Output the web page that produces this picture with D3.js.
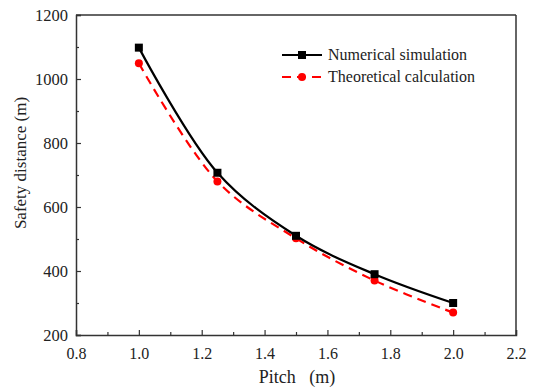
<!DOCTYPE html>
<html>
<head>
<meta charset="utf-8">
<script src="https://cdn.jsdelivr.net/npm/d3@7"></script>
<style>
  body { margin: 0; background: #fff; }
</style>
</head>
<body>
<div id="chart"></div>
<script>
// Data
const pitch = [1.0, 1.25, 1.5, 1.75, 2.0];
const numerical = [1098, 707, 510, 390, 300];
const theoretical = [1049, 680, 502, 370, 270];
const xTicks = [0.8, 1.0, 1.2, 1.4, 1.6, 1.8, 2.0, 2.2];
const yTicks = [200, 400, 600, 800, 1000, 1200];
const seriesNames = ['Numerical simulation', 'Theoretical calculation'];

const FONT = '"Liberation Serif", "DejaVu Serif", "Times New Roman", serif';

const W = 534, H = 387;
const margin = { top: 15, right: 18, bottom: 52, left: 76 };
const width = W - margin.left - margin.right;
const height = H - margin.top - margin.bottom;

const svg = d3.select('#chart').append('svg')
    .attr('width', W)
    .attr('height', H)
    .style('font-family', FONT);

const g = svg.append('g')
    .attr('transform', `translate(${margin.left},${margin.top})`);

const x = d3.scaleLinear().domain([0.8, 2.2]).range([0, width]);
const y = d3.scaleLinear().domain([200, 1200]).range([height, 0]);

// minor ticks
g.append('g')
    .attr('transform', `translate(0,${height})`)
    .call(d3.axisBottom(x).tickValues(d3.range(0.9, 2.2, 0.2)).tickSize(-3).tickFormat(''))
    .call(a => a.select('.domain').remove());
g.append('g')
    .call(d3.axisLeft(y).tickValues(d3.range(300, 1200, 200)).tickSize(-3).tickFormat(''))
    .call(a => a.select('.domain').remove());

// major axes
const xAxis = g.append('g')
    .attr('transform', `translate(0,${height})`)
    .call(d3.axisBottom(x).tickValues(xTicks).tickSize(-5).tickPadding(13).tickFormat(d3.format('.1f')));
const yAxis = g.append('g')
    .call(d3.axisLeft(y).tickValues(yTicks).tickSize(-5).tickPadding(8).tickFormat(d3.format('d')));

xAxis.selectAll('text').style('font-size', '16px');
yAxis.selectAll('text').style('font-size', '16.5px');
[xAxis, yAxis].forEach(a => {
    a.attr('font-family', null);
    a.selectAll('text').style('font-family', FONT).attr('fill', '#222');
    a.select('.domain').attr('stroke', '#333').attr('stroke-width', 1.5);
});
g.selectAll('.tick line').attr('stroke', '#333').attr('stroke-width', 1.2);

// frame top and right
g.append('line').attr('x1', 0).attr('x2', width).attr('y1', 0).attr('y2', 0)
    .attr('stroke', '#333').attr('stroke-width', 1.5);
g.append('line').attr('x1', width).attr('x2', width).attr('y1', 0).attr('y2', height)
    .attr('stroke', '#333').attr('stroke-width', 1.5);

// axis titles
svg.append('text')
    .attr('x', 297)
    .attr('y', 383)
    .attr('text-anchor', 'middle')
    .style('font-size', '18px')
    .style('font-family', FONT)
    .attr('fill', '#222')
    .text('Pitch\u00a0\u00a0\u00a0(m)');
svg.append('text')
    .attr('transform', 'translate(26,163) rotate(-90)')
    .attr('text-anchor', 'middle')
    .style('font-size', '17px')
    .style('font-family', FONT)
    .attr('fill', '#222')
    .text('Safety distance (m)');

const line = d3.line()
    .x(d => x(d[0]))
    .y(d => y(d[1]))
    .curve(d3.curveCatmullRom.alpha(0.5));

const numData = pitch.map((p, i) => [p, numerical[i]]);
const theoData = pitch.map((p, i) => [p, theoretical[i]]);

// theoretical (red dashed)
g.append('path')
    .datum(theoData)
    .attr('fill', 'none')
    .attr('stroke', '#ff0000')
    .attr('stroke-width', 2.2)
    .attr('stroke-dasharray', '9,6')
    .attr('d', line);
g.selectAll('.theo')
    .data(theoData)
    .enter()
    .append('circle')
    .attr('class', 'theo')
    .attr('cx', d => x(d[0]))
    .attr('cy', d => y(d[1]))
    .attr('r', 4)
    .attr('fill', '#ff0000');

// numerical (black solid)
g.append('path')
    .datum(numData)
    .attr('fill', 'none')
    .attr('stroke', '#000')
    .attr('stroke-width', 2.2)
    .attr('d', line);
g.selectAll('.num')
    .data(numData)
    .enter()
    .append('rect')
    .attr('class', 'num')
    .attr('x', d => x(d[0]) - 4)
    .attr('y', d => y(d[1]) - 4)
    .attr('width', 8)
    .attr('height', 8)
    .attr('fill', '#000');

// legend
const legend = svg.append('g').attr('transform', 'translate(282,55)');
legend.append('line').attr('x1', 0).attr('x2', 40).attr('y1', 0).attr('y2', 0)
    .attr('stroke', '#000').attr('stroke-width', 2.2);
legend.append('rect').attr('x', 16).attr('y', -4).attr('width', 8).attr('height', 8).attr('fill', '#000');
legend.append('line').attr('x1', 0).attr('x2', 40).attr('y1', 22).attr('y2', 22)
    .attr('stroke', '#ff0000').attr('stroke-width', 2.2).attr('stroke-dasharray', '9,6');
legend.append('circle').attr('cx', 20).attr('cy', 22).attr('r', 4).attr('fill', '#ff0000');
legend.selectAll('.lt')
    .data(seriesNames)
    .enter()
    .append('text')
    .attr('class', 'lt')
    .attr('x', 46)
    .attr('y', (d, i) => i * 22 + 5)
    .style('font-size', '16px')
    .style('font-family', FONT)
    .attr('fill', '#222')
    .text(d => d);
</script>
</body>
</html>
